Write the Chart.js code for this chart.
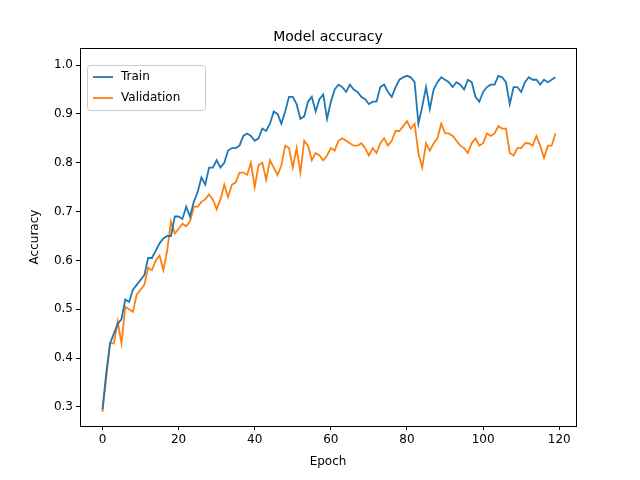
<!DOCTYPE html>
<html>
<head>
<meta charset="utf-8">
<script src="https://cdn.jsdelivr.net/npm/chart.js@4"></script>
<style>body{margin:0;background:#fff}</style>
</head>
<body>
<div style="width:640px;height:480px"><canvas id="c" width="640" height="480"></canvas></div>
<script>
const trainAcc = [0.295,0.37,0.43,0.45,0.47,0.48,0.52,0.515,0.54,0.55,0.56,0.57,0.605,0.605,0.62,0.635,0.645,0.65,0.65,0.69,
  0.69,0.685,0.71,0.69,0.72,0.74,0.77,0.755,0.79,0.79,0.805,0.79,0.8,0.825,0.83,0.83,0.835,0.855,0.86,0.855,
  0.845,0.85,0.87,0.865,0.88,0.905,0.9,0.88,0.905,0.935,0.935,0.92,0.89,0.895,0.925,0.935,0.905,0.93,0.94,0.89,
  0.925,0.95,0.96,0.955,0.945,0.96,0.95,0.945,0.935,0.93,0.92,0.925,0.925,0.955,0.96,0.945,0.935,0.955,0.97,0.975,
  0.978,0.975,0.965,0.88,0.915,0.955,0.91,0.95,0.965,0.975,0.97,0.965,0.955,0.965,0.96,0.95,0.97,0.965,0.935,0.925,
  0.945,0.955,0.96,0.96,0.978,0.975,0.965,0.92,0.955,0.955,0.945,0.965,0.975,0.97,0.97,0.96,0.97,0.965,0.97,0.975];
const valAcc = [0.29,0.36,0.43,0.43,0.475,0.43,0.505,0.5,0.495,0.53,0.54,0.55,0.585,0.58,0.6,0.61,0.58,0.62,0.68,0.655,
  0.665,0.675,0.67,0.68,0.71,0.71,0.72,0.725,0.735,0.725,0.705,0.725,0.755,0.73,0.755,0.76,0.78,0.78,0.775,0.8,
  0.75,0.795,0.8,0.765,0.805,0.79,0.775,0.795,0.835,0.83,0.79,0.83,0.78,0.845,0.835,0.805,0.82,0.815,0.805,0.815,
  0.83,0.825,0.845,0.85,0.845,0.84,0.835,0.835,0.84,0.83,0.815,0.83,0.82,0.84,0.85,0.835,0.845,0.865,0.865,0.875,
  0.885,0.87,0.88,0.82,0.79,0.84,0.825,0.84,0.85,0.88,0.86,0.86,0.855,0.845,0.835,0.83,0.82,0.84,0.85,0.835,
  0.84,0.86,0.855,0.86,0.875,0.87,0.87,0.82,0.815,0.83,0.83,0.84,0.84,0.835,0.855,0.835,0.81,0.835,0.835,0.86];
const epochs = trainAcc.map((_, i) => i);
const seriesNames = ['Train', 'Validation'];
const colors = ['#1f77b4', '#ff7f0e'];

const font = { family: 'DejaVu Sans', size: 12 };

// matplotlib-like frame, title, axis titles and in-plot legend
const decor = {
  id: 'decor',
  afterDraw(chart) {
    const { ctx, chartArea: a } = chart;
    ctx.save();
    ctx.strokeStyle = '#000';
    ctx.lineWidth = 1;
    ctx.strokeRect(a.left + 0.5, a.top + 0.5, a.right - a.left, a.bottom - a.top);
    ctx.fillStyle = '#000';
    ctx.font = '14px "DejaVu Sans"';
    ctx.textAlign = 'center';
    ctx.textBaseline = 'alphabetic';
    ctx.fillText('Model accuracy', (a.left + a.right) / 2, a.top - 7);
    ctx.font = '12px "DejaVu Sans"';
    ctx.textBaseline = 'middle';
    ctx.fillText('Epoch', (a.left + a.right) / 2, 462);
    ctx.save();
    ctx.translate(35, (a.top + a.bottom) / 2);
    ctx.rotate(-Math.PI / 2);
    ctx.fillText('Accuracy', 0, 0);
    ctx.restore();
    // legend box
    const lx = a.left + 7, ly = a.top + 17, lw = 118, lh = 45;
    ctx.fillStyle = 'rgba(255,255,255,0.8)';
    ctx.strokeStyle = '#ccc';
    ctx.beginPath();
    ctx.roundRect(lx + 0.5, ly + 0.5, lw, lh, 3);
    ctx.fill();
    ctx.stroke();
    ctx.textAlign = 'left';
    seriesNames.forEach((n, i) => {
      const y = ly + 12 + i * 21;
      ctx.strokeStyle = colors[i];
      ctx.lineWidth = 1.8;
      ctx.beginPath();
      ctx.moveTo(lx + 6, y);
      ctx.lineTo(lx + 26, y);
      ctx.stroke();
      ctx.fillStyle = '#000';
      ctx.fillText(n, lx + 34, y);
    });
    ctx.restore();
  }
};

new Chart(document.getElementById('c'), {
  type: 'line',
  data: {
    labels: epochs,
    datasets: [trainAcc, valAcc].map((d, i) => ({
      label: seriesNames[i],
      data: d.map((v, j) => ({ x: epochs[j], y: v })),
      borderColor: colors[i],
      borderWidth: 1.8,
      pointRadius: 0,
      tension: 0,
      fill: false
    }))
  },
  options: {
    responsive: false,
    animation: false,
    layout: { padding: { top: 48, right: 64, left: 0, bottom: 0 } },
    plugins: { legend: { display: false }, tooltip: { enabled: false } },
    scales: {
      x: {
        type: 'linear',
        min: -5.9,
        max: 124.4,
        afterFit(s) { s.height = 54; },
        afterBuildTicks(s) { s.ticks = [0, 20, 40, 60, 80, 100, 120].map(v => ({ value: v })); },
        grid: { drawOnChartArea: false, drawTicks: true, tickLength: 4, color: '#000' },
        border: { display: false },
        ticks: { color: '#000', font, padding: 3, maxRotation: 0 }
      },
      y: {
        min: 0.261,
        max: 1.035,
        afterFit(s) { s.width = 80; },
        afterBuildTicks(s) { s.ticks = [0.3, 0.4, 0.5, 0.6, 0.7, 0.8, 0.9, 1.0].map(v => ({ value: v })); },
        grid: { drawOnChartArea: false, drawTicks: true, tickLength: 4, color: '#000' },
        border: { display: false },
        ticks: { color: '#000', font, padding: 3, callback: v => v.toFixed(1) }
      }
    }
  },
  plugins: [decor]
});
</script>
</body>
</html>
